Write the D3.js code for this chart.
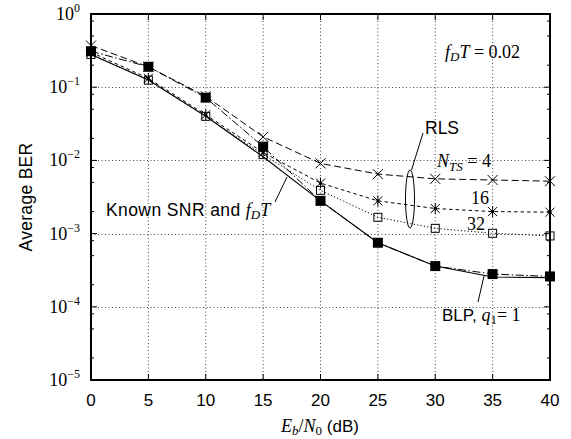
<!DOCTYPE html>
<html><head><meta charset="utf-8">
<script src="https://cdn.jsdelivr.net/npm/d3@7"></script>
<style>body{margin:0;background:#fff}</style>
</head><body><svg id="c" width="571" height="439" xmlns="http://www.w3.org/2000/svg"></svg>
<script>
// ---- data ----
const snr = [0, 5, 10, 15, 20, 25, 30, 35, 40];
const knownBER = [0.28, 0.125, 0.040, 0.0112, 0.0028, 7.5e-4, 3.6e-4, 2.55e-4, 2.5e-4];
const blpBER   = [0.31, 0.19, 0.072, 0.0154, 0.0028, 7.5e-4, 3.6e-4, 2.8e-4, 2.6e-4];
const rls4BER  = [0.37, 0.19, 0.075, 0.021, 0.0091, 0.0065, 0.0056, 0.0054, 0.0052];
const rls16BER = [0.30, 0.132, 0.042, 0.0128, 0.0049, 0.0028, 0.0022, 0.0020, 0.00196];
const rls32BER = [0.28, 0.125, 0.040, 0.0120, 0.0039, 0.00167, 0.00118, 0.00101, 0.00093];
const xTicks = [0, 5, 10, 15, 20, 25, 30, 35, 40];
const yTickExps = [0, -1, -2, -3, -4, -5];
const minorMult = [2, 5, 8];

// ---- layout ----
const L = 91, R = 550, T = 14, B = 380;
const svg = d3.select("#c");
const x = d3.scaleLinear().domain([0, 40]).range([L, R]);
const y = d3.scaleLog().domain([1e-5, 1]).range([B, T]);
const serif = "'Liberation Serif','Times New Roman',serif";
const sans = "'Liberation Sans',Arial,Helvetica,sans-serif";

// grid
const g = svg.append("g");
g.selectAll("line.gx").data(xTicks.slice(1, -1)).enter().append("line")
  .attr("x1", d => x(d)).attr("x2", d => x(d)).attr("y1", T).attr("y2", B)
  .attr("stroke", "#444").attr("stroke-width", 1).attr("stroke-dasharray", "1,2.5");
g.selectAll("line.gy").data(yTickExps.slice(1, -1)).enter().append("line")
  .attr("y1", d => Math.round(y(Math.pow(10, d))) + 0.5).attr("y2", d => Math.round(y(Math.pow(10, d))) + 0.5)
  .attr("x1", L).attr("x2", R)
  .attr("stroke", "#444").attr("stroke-width", 1).attr("stroke-dasharray", "1,2.5");

// ticks
const tk = svg.append("g").attr("stroke", "#000").attr("stroke-width", 1);
xTicks.forEach(d => {
  tk.append("line").attr("x1", x(d)).attr("x2", x(d)).attr("y1", B).attr("y2", B - 6);
  tk.append("line").attr("x1", x(d)).attr("x2", x(d)).attr("y1", T).attr("y2", T + 6);
});
yTickExps.forEach(e => {
  const yy = y(Math.pow(10, e));
  tk.append("line").attr("x1", L).attr("x2", L + 6).attr("y1", yy).attr("y2", yy);
  tk.append("line").attr("x1", R).attr("x2", R - 6).attr("y1", yy).attr("y2", yy);
  if (e > -5) minorMult.forEach(m => {
    const ym = y(m * Math.pow(10, e - 1));
    tk.append("line").attr("x1", L).attr("x2", L + 3).attr("y1", ym).attr("y2", ym);
    tk.append("line").attr("x1", R).attr("x2", R - 3).attr("y1", ym).attr("y2", ym);
  });
});

// series lines
const line = d3.line().x((d, i) => x(snr[i])).y(d => y(d));
const series = [
  {v: rls32BER, dash: "1.2,2.2", w: 1, mk: "osq"},
  {v: rls16BER, dash: "3.5,3", w: 1, mk: "ast"},
  {v: rls4BER, dash: "7,3.5", w: 1, mk: "x"},
  {v: knownBER, dash: null, w: 1.1, mk: null},
  {v: blpBER, dash: "8,2.5,1.5,2.5", w: 1, mk: "fsq"}
];
series.forEach(s => {
  svg.append("path").attr("d", line(s.v)).attr("fill", "none")
    .attr("stroke", "#000").attr("stroke-width", s.w)
    .attr("stroke-dasharray", s.dash);
});
series.forEach(s => {
  if (!s.mk) return;
  const mg = svg.append("g");
  s.v.forEach((v, i) => {
    const cx = x(snr[i]), cy = y(v);
    if (s.mk === "fsq") {
      mg.append("rect").attr("x", cx - 5).attr("y", cy - 5).attr("width", 10).attr("height", 10).attr("fill", "#000");
    } else if (s.mk === "osq") {
      mg.append("rect").attr("x", cx - 4).attr("y", cy - 4).attr("width", 8).attr("height", 8)
        .attr("fill", "none").attr("stroke", "#000").attr("stroke-width", 1);
    } else if (s.mk === "x") {
      const r = 5;
      mg.append("path").attr("d", `M${cx - r},${cy - r}L${cx + r},${cy + r}M${cx - r},${cy + r}L${cx + r},${cy - r}`)
        .attr("stroke", "#000").attr("stroke-width", 1);
    } else if (s.mk === "ast") {
      const r = 4.5;
      mg.append("path").attr("d", `M${cx - r},${cy - r}L${cx + r},${cy + r}M${cx - r},${cy + r}L${cx + r},${cy - r}M${cx},${cy - r - 1}L${cx},${cy + r + 1}`)
        .attr("stroke", "#000").attr("stroke-width", 1);
      mg.append("circle").attr("cx", cx).attr("cy", cy).attr("r", 1.6).attr("fill", "#000");
    }
  });
});

// frame
svg.append("rect").attr("x", L).attr("y", T).attr("width", R - L).attr("height", B - T)
  .attr("fill", "none").attr("stroke", "#000").attr("stroke-width", 2);

// x tick labels
svg.selectAll("text.xt").data(xTicks).enter().append("text")
  .attr("x", d => x(d)).attr("y", 405.5).attr("text-anchor", "middle")
  .attr("font-family", sans).attr("font-size", 17).text(d => d);

// y tick labels
yTickExps.forEach(e => {
  const t = svg.append("text").attr("x", 80).attr("y", y(Math.pow(10, e)) + 6)
    .attr("text-anchor", "end").attr("font-family", serif).attr("font-size", 18);
  t.append("tspan").text("10");
  t.append("tspan").attr("dy", -8).attr("font-size", 12).text(e === 0 ? "0" : "\u2212" + (-e));
});

// axis titles
svg.append("text").attr("transform", "translate(32,197) rotate(-90)")
  .attr("text-anchor", "middle").attr("font-family", sans).attr("font-size", 17.5)
  .attr("letter-spacing", 0.3).text("Average BER");
const xt = svg.append("text").attr("x", 320).attr("y", 432).attr("text-anchor", "middle").attr("font-size", 17);
xt.append("tspan").attr("font-family", serif).attr("font-style", "italic").attr("font-size", 18).text("E");
xt.append("tspan").attr("font-family", serif).attr("font-style", "italic").attr("font-size", 13).attr("dy", 3).text("b");
xt.append("tspan").attr("font-family", serif).attr("font-size", 18).attr("dy", -3).text("/");
xt.append("tspan").attr("font-family", serif).attr("font-style", "italic").attr("font-size", 18).text("N");
xt.append("tspan").attr("font-family", serif).attr("font-size", 13).attr("dy", 3).text("0");
xt.append("tspan").attr("font-family", sans).attr("dy", -3).text(" (dB)");

// annotations
const fd = svg.append("text").attr("x", 445).attr("y", 58).attr("font-family", serif).attr("font-size", 18);
fd.append("tspan").attr("font-style", "italic").text("f");
fd.append("tspan").attr("font-style", "italic").attr("font-size", 13).attr("dy", 3).text("D");
fd.append("tspan").attr("font-style", "italic").attr("dy", -3).text("T");
fd.append("tspan").text(" = 0.02");

svg.append("text").attr("x", 425).attr("y", 134).attr("font-family", sans).attr("font-size", 17.5).text("RLS");
svg.append("line").attr("x1", 423).attr("y1", 133).attr("x2", 411.5).attr("y2", 170).attr("stroke", "#000");
svg.append("ellipse").attr("cx", 410).attr("cy", 199).attr("rx", 4.5).attr("ry", 29)
  .attr("fill", "none").attr("stroke", "#000");

const nts = svg.append("text").attr("x", 437).attr("y", 167).attr("font-family", serif).attr("font-size", 18);
nts.append("tspan").attr("font-style", "italic").text("N");
nts.append("tspan").attr("font-style", "italic").attr("font-size", 13).attr("dy", 4).text("TS");
nts.append("tspan").attr("dy", -4).text(" = 4");
svg.append("text").attr("x", 471).attr("y", 204).attr("font-family", serif).attr("font-size", 18).text("16");
svg.append("text").attr("x", 467).attr("y", 230).attr("font-family", serif).attr("font-size", 18).text("32");

const kn = svg.append("text").attr("x", 106).attr("y", 216).attr("font-family", sans).attr("font-size", 17.5)
  .attr("letter-spacing", 0.4);
kn.append("tspan").text("Known SNR and ");
kn.append("tspan").attr("font-family", serif).attr("font-style", "italic").attr("font-size", 18).attr("letter-spacing", 0).text("f");
kn.append("tspan").attr("font-family", serif).attr("font-style", "italic").attr("font-size", 13).attr("letter-spacing", 0).attr("dy", 3).text("D");
kn.append("tspan").attr("font-family", serif).attr("font-style", "italic").attr("font-size", 18).attr("letter-spacing", 0).attr("dy", -3).text("T");
svg.append("line").attr("x1", 275).attr("y1", 202).attr("x2", 287).attr("y2", 177).attr("stroke", "#000");

const bl = svg.append("text").attr("x", 442).attr("y", 321).attr("font-family", sans).attr("font-size", 17);
bl.append("tspan").text("BLP, ");
bl.append("tspan").attr("font-family", serif).attr("font-style", "italic").attr("font-size", 18).text("q");
bl.append("tspan").attr("font-family", serif).attr("font-size", 13).attr("dy", 3).text("1");
bl.append("tspan").attr("font-family", serif).attr("font-size", 18).attr("dy", -3).text("= 1");
svg.append("line").attr("x1", 478).attr("y1", 302).attr("x2", 484).attr("y2", 276).attr("stroke", "#000");
</script>
</body></html>
